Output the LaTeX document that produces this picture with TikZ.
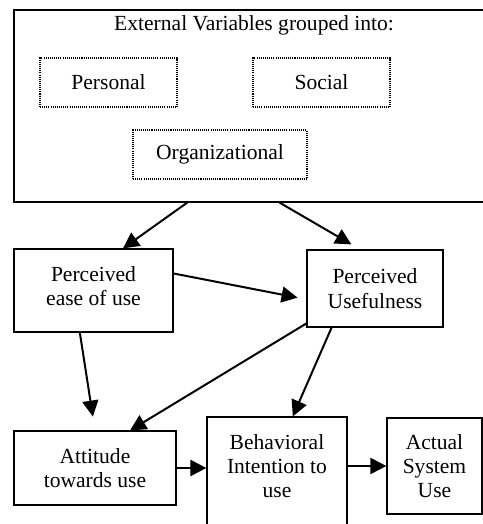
\documentclass[tikz,border=0pt]{standalone}
\usepackage{fontspec}
\setmainfont{Liberation Serif}
\usetikzlibrary{arrows.meta}

\begin{document}
\begin{tikzpicture}[
    font=\fontsize{18.4}{20.8}\selectfont,
    box/.style={rectangle, draw, line width=1pt, align=center, inner sep=0pt},
    group/.style={rectangle, draw, line width=0.9pt, dash pattern=on 0.9pt off 0.9pt, minimum width=4.11cm, minimum height=1.47cm},
    arr/.style={-{Triangle[length=0.48cm, width=0.48cm]}, line width=1.7pt}
]
\useasboundingbox (0,0) rectangle (14.49,15.72);

% External variables
\node[box, minimum width=14.16cm, minimum height=5.76cm] (ext) at (7.5,12.54) {};
\node (title) at (7.62,14.95) {External Variables grouped into:};
\node[group] (pers) at (3.255,13.245) {Personal};
\node[group] (soc) at (9.645,13.245) {Social};
\node[group, minimum width=5.22cm] (org) at (6.6,11.085) {Organizational};

% Perceptions
\node[box, minimum width=4.77cm, minimum height=2.49cm, text depth=0.28cm] (peou) at (2.805,7.005) {Perceived\\ease of use};
\node[box, minimum width=4.08cm, minimum height=2.31cm] (pu) at (11.25,7.065) {Perceived\\Usefulness};

% Attitude, intention, use
\node[box, minimum width=4.86cm, minimum height=2.22cm] (atu) at (2.85,1.68) {Attitude\\towards use};
\node[box, minimum width=4.2cm, minimum height=3.27cm, text depth=0.33cm] (bi) at (8.31,1.575) {Behavioral\\Intention to\\use};
\node[box, minimum width=2.85cm, minimum height=2.88cm] (asu) at (13.035,1.74) {Actual\\System\\Use};

% Arrows
\draw[arr] (ext.237) -- (peou.55);
\draw[arr, shorten >=0.3cm] (ext.287) -- (pu.111);
\draw[arr, shorten >=0.27cm] (peou.12) -- (pu.189);
\draw[arr, shorten >=0.42cm] (peou.252) -- (atu.north);
\draw[arr] (pu.207) -- (atu.47);
\draw[arr] (pu.222) -- (bi.74);
\draw[arr] (atu.east) -- (atu.east -| bi.west);
\draw[arr] (asu.west -| bi.east) -- (asu.west);
\end{tikzpicture}
\end{document}
